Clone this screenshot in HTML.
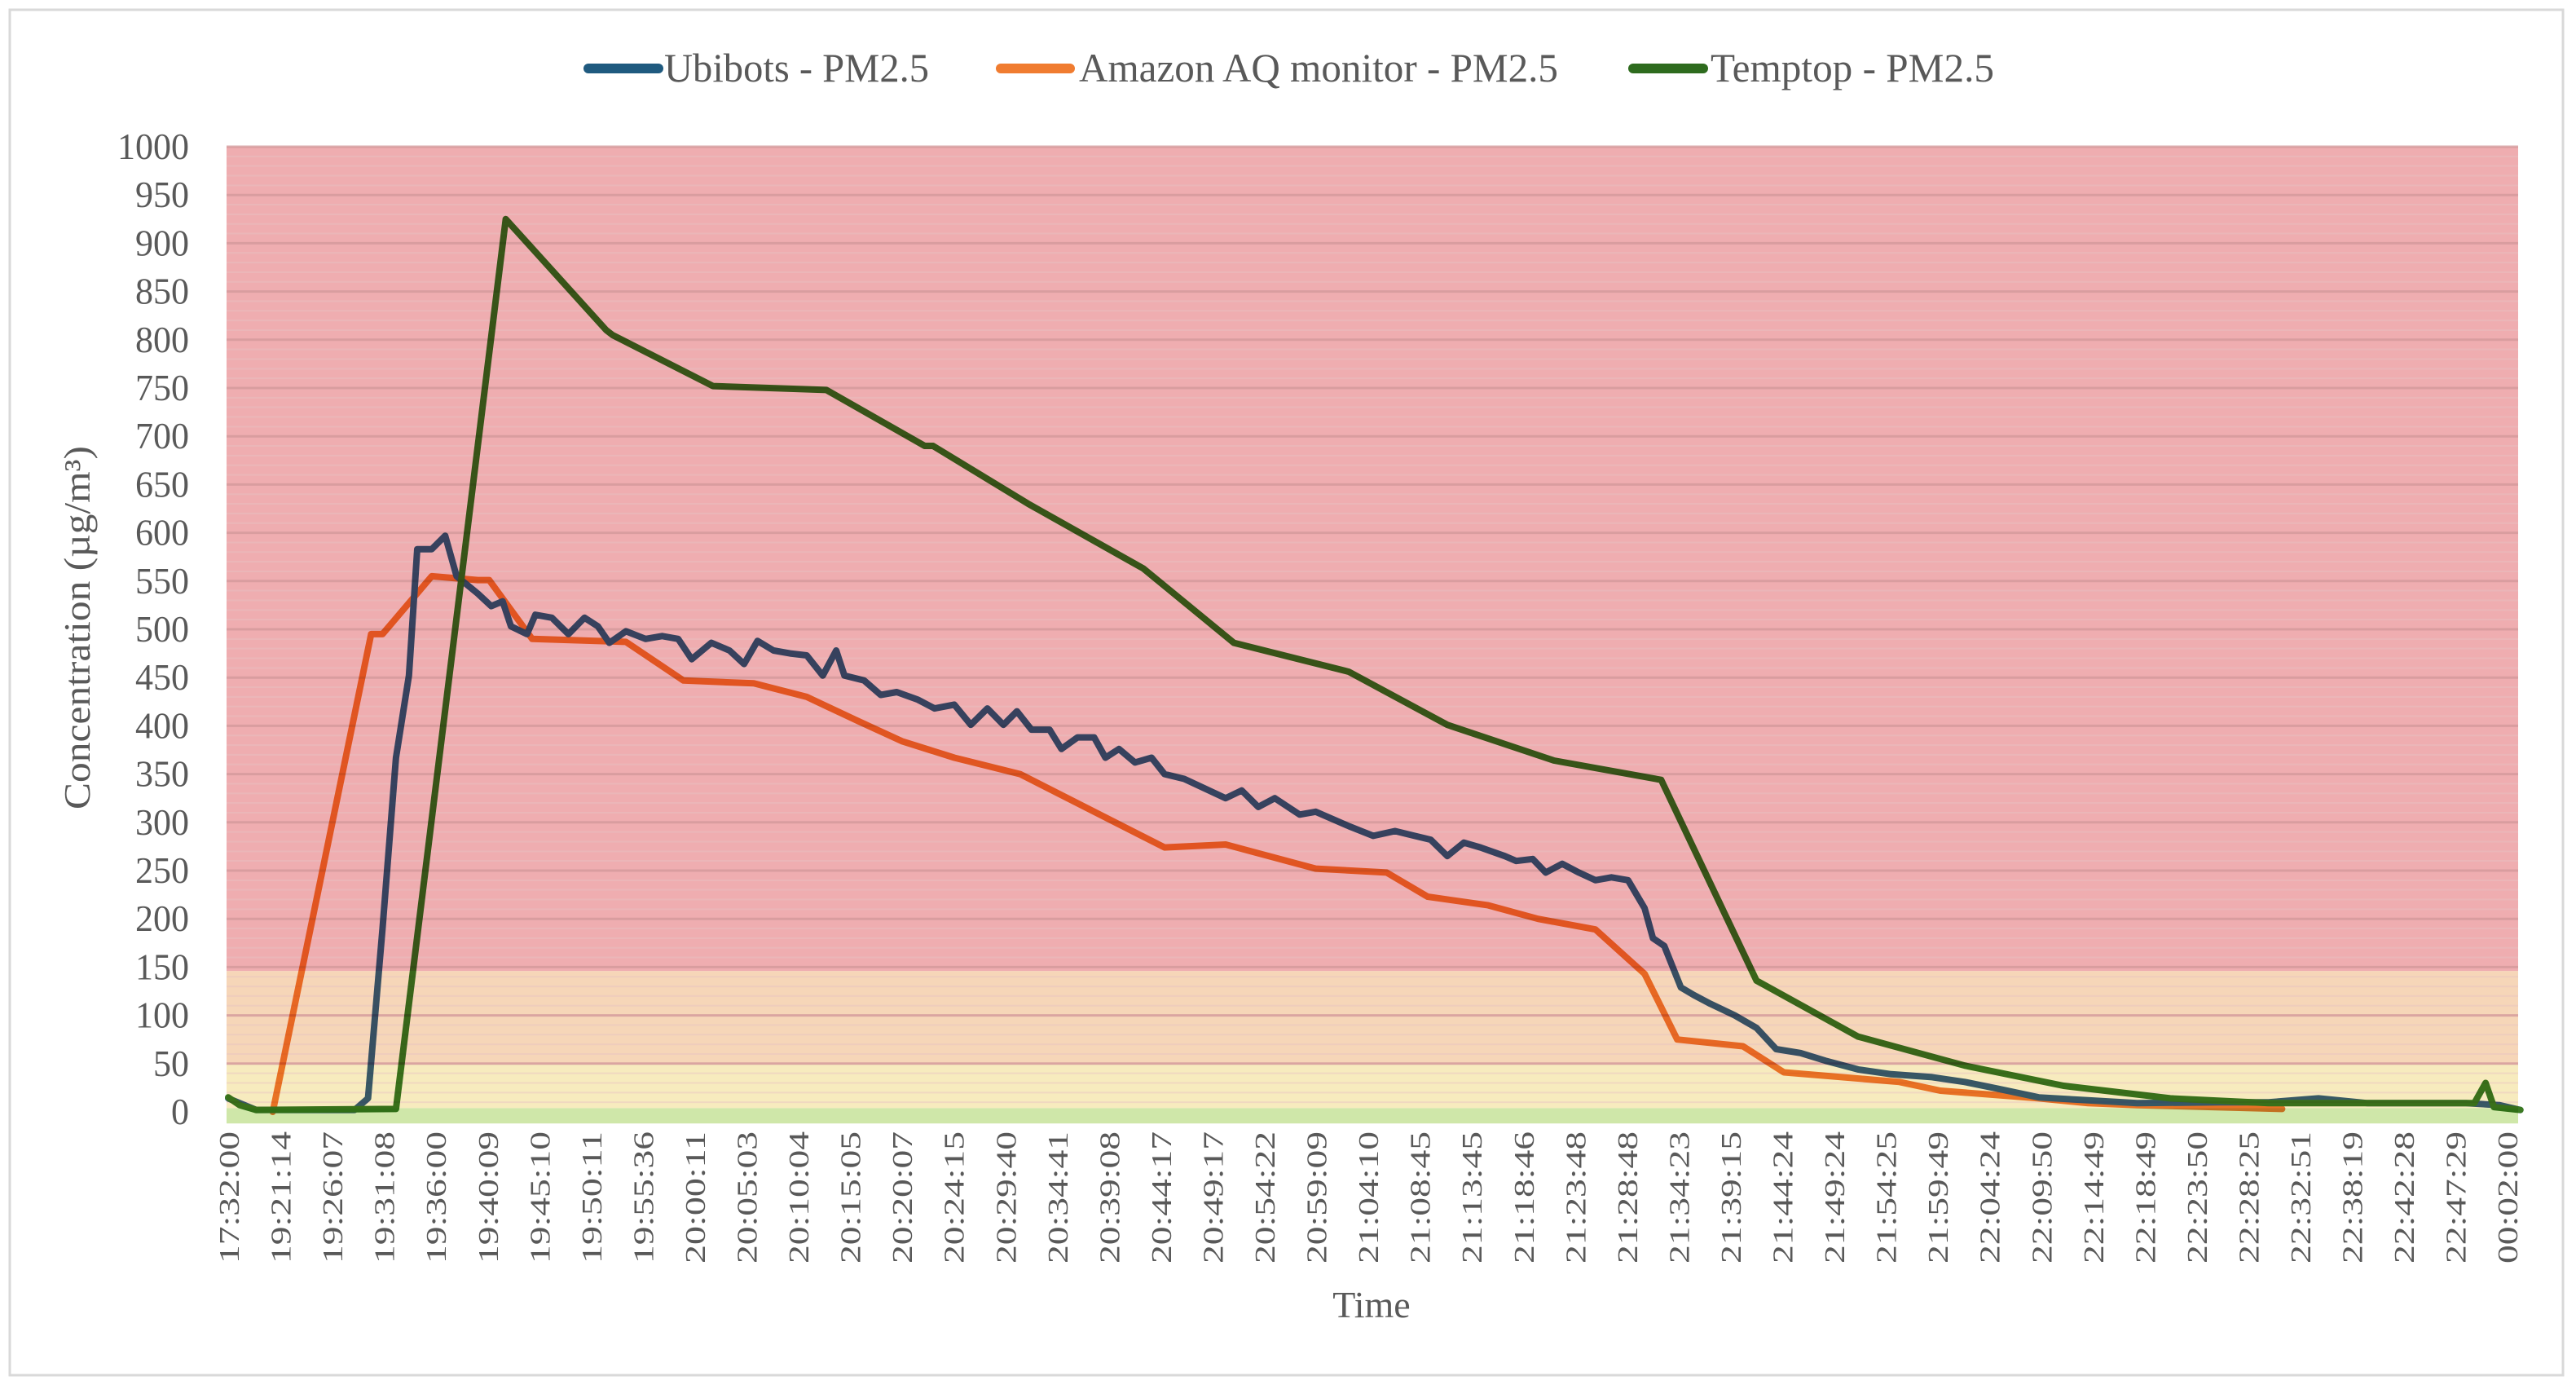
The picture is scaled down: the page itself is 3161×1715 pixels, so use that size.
<!DOCTYPE html>
<html><head><meta charset="utf-8"><style>
html,body{margin:0;padding:0;background:#fff}
svg{display:block}
text{font-family:"Liberation Serif",serif;fill:#595959}
</style></head><body>
<svg id="chart" width="3161" height="1715" viewBox="0 0 3161 1715" xmlns="http://www.w3.org/2000/svg">
<rect x="12" y="12" width="3133" height="1675" fill="#fff" stroke="#d9d9d9" stroke-width="3"/>
<g id="lines"></g>
<g id="bands" style="mix-blend-mode:multiply"></g>
<g id="yticks"></g>
<g id="xticks"></g>
<text transform="translate(110,770) rotate(-90)" text-anchor="middle" font-size="46" textLength="446" lengthAdjust="spacingAndGlyphs">Concentration (µg/m³)</text>
<text x="1683" y="1616" text-anchor="middle" font-size="46">Time</text>
<g>
 <g>
  <line x1="722" y1="84" x2="808" y2="84" stroke="#1f5a7f" stroke-width="12" stroke-linecap="round"/>
  <text x="815" y="100" font-size="50" textLength="325" lengthAdjust="spacingAndGlyphs">Ubibots - PM2.5</text>
 </g>
 <g>
  <line x1="1228" y1="84" x2="1313" y2="84" stroke="#f07c30" stroke-width="12" stroke-linecap="round"/>
  <text x="1324" y="100" font-size="50" textLength="588" lengthAdjust="spacingAndGlyphs">Amazon AQ monitor - PM2.5</text>
 </g>
 <g>
  <line x1="2004" y1="84" x2="2090" y2="84" stroke="#2e6b1e" stroke-width="12" stroke-linecap="round"/>
  <text x="2099" y="100" font-size="50" textLength="348" lengthAdjust="spacingAndGlyphs">Temptop - PM2.5</text>
 </g>
</g>
</svg>
<script>
const xLabels=["17:32:00","19:21:14","19:26:07","19:31:08","19:36:00","19:40:09","19:45:10","19:50:11","19:55:36","20:00:11","20:05:03","20:10:04","20:15:05","20:20:07","20:24:15","20:29:40","20:34:41","20:39:08","20:44:17","20:49:17","20:54:22","20:59:09","21:04:10","21:08:45","21:13:45","21:18:46","21:23:48","21:28:48","21:34:23","21:39:15","21:44:24","21:49:24","21:54:25","21:59:49","22:04:24","22:09:50","22:14:49","22:18:49","22:23:50","22:28:25","22:32:51","22:38:19","22:42:28","22:47:29","00:02:00"];
const yTicks=[0,50,100,150,200,250,300,350,400,450,500,550,600,650,700,750,800,850,900,950,1000];
const bandLow=[-12,4,49,146];
const bandHigh=[4,49,146,1000];
const bandColors=["#cfe7a9","#f7ebbe","#f6d6b8","#efadb0"];
const ubiT=[0,0.54,2.44,2.70,2.98,3.24,3.49,3.65,3.93,4.19,4.41,4.82,5.08,5.30,5.46,5.77,5.93,6.25,6.57,6.88,7.14,7.36,7.68,8.06,8.38,8.69,8.95,9.33,9.68,9.96,10.22,10.53,10.85,11.17,11.48,11.74,11.90,12.28,12.60,12.91,13.32,13.64,14.02,14.34,14.66,14.97,15.23,15.51,15.86,16.09,16.40,16.72,16.94,17.20,17.51,17.83,18.08,18.46,18.78,19.26,19.57,19.89,20.21,20.69,21.00,21.64,22.11,22.53,22.91,23.22,23.54,23.86,24.18,24.65,24.87,25.19,25.44,25.76,26.08,26.40,26.71,27.03,27.35,27.51,27.73,28.05,28.30,28.62,29.09,29.51,29.89,30.36,30.84,31.47,32.11,32.90,33.53,34.17,34.96,35.91,36.86,38.45,39.40,40.36,41.31,43.21,43.85,44.26];
const ubiV=[14,2,2,14,190,367,452,583,583,597,555,537,524,529,503,495,515,512,495,512,503,486,498,490,493,490,469,486,478,464,488,478,475,473,452,478,452,447,432,435,427,418,422,401,418,401,415,396,396,376,388,388,367,376,362,367,350,345,337,325,333,316,325,308,311,296,286,291,286,282,265,279,274,265,260,262,248,257,248,240,243,240,211,180,172,129,121,112,100,87,65,61,53,44,39,36,31,24,15,12,9,10,10,14,9,9,7,2];
const amzT=[0.86,2.76,2.98,3.93,4.82,5.04,5.87,7.68,8.79,10.15,11.17,12.12,13.01,14.02,15.29,18.08,19.26,21.00,22.37,23.16,24.33,25.29,26.40,27.35,27.98,29.25,30.04,32.27,33.06,34.96,35.91,36.86,39.66];
const amzV=[0,495,495,555,551,551,490,487,447,444,430,406,384,367,350,274,277,252,248,223,214,200,189,143,75,68,41,31,22,14,9,7,3];
const tmpT=[0,0.22,0.54,3.24,5.36,7.30,7.42,9.36,11.55,13.45,13.61,15.45,17.67,19.42,21.64,23.54,25.60,27.67,29.51,31.47,33.53,35.44,37.50,39.40,41.31,43.37,43.59,43.75,44.26];
const tmpV=[15,7,2,3,925,810,805,752,748,690,690,630,563,486,456,401,364,344,136,78,48,27,14,9,9,9,30,5,2];

const NS="http://www.w3.org/2000/svg";
const PL=278,PR=3090,Y0=1364,YK=1.184,X0=280,XS=63.55;
const xs=i=>X0+i*XS;
const ys=v=>Y0-v*YK;
function mk(tag,attrs,parent){const e=document.createElementNS(NS,tag);for(const k in attrs)e.setAttribute(k,attrs[k]);parent.appendChild(e);return e;}

const bands=document.getElementById('bands');
for(let i=0;i<bandLow.length;i++){
 const r=mk('rect',{x:PL,y:ys(bandHigh[i]),width:PR-PL,height:ys(bandLow[i])-ys(bandHigh[i]),fill:bandColors[i]},bands);
 
 
}
for(let v=10;v<=1000;v+=10){
 const major=v%50===0;
 const l=mk('line',{x1:PL,x2:PR,y1:ys(v),y2:ys(v),stroke:major?'#d49a9c':'#e8c3c3','stroke-width':major?3:2,opacity:major?0.8:0.45},bands);
 
 
}

const lines=document.getElementById('lines');
function series(T,V,color,name){
 let d='';for(let i=0;i<T.length;i++)d+=(i?'L':'M')+xs(T[i]).toFixed(1)+','+ys(V[i]).toFixed(1);
 const p=mk('path',{d:d,fill:'none',stroke:color,'stroke-width':8,'stroke-linejoin':'round','stroke-linecap':'round'},lines);
 
 
}
series(amzT,amzV,'#f07c30','amazon-line');
series(ubiT,ubiV,'#3a5f86','ubibots-line');
series(tmpT,tmpV,'#3b7a22','temptop-line');

const yt=document.getElementById('yticks');
yTicks.forEach(v=>{
 const t=mk('text',{x:232,y:ys(v)+15,'text-anchor':'end','font-size':46},yt);
 t.setAttribute('textLength',String(v).length*22);
 t.setAttribute('lengthAdjust','spacingAndGlyphs');
 t.textContent=v;
 
 
});
const xt=document.getElementById('xticks');
xLabels.forEach((s,i)=>{
 const x=xs(i)+13;
 const t=mk('text',{transform:`translate(${x},1388) rotate(-90) scale(1,0.8)`,'text-anchor':'end','font-size':44,textLength:162,lengthAdjust:'spacingAndGlyphs'},xt);
 t.textContent=s;
 
 
});
</script>
</body></html>
